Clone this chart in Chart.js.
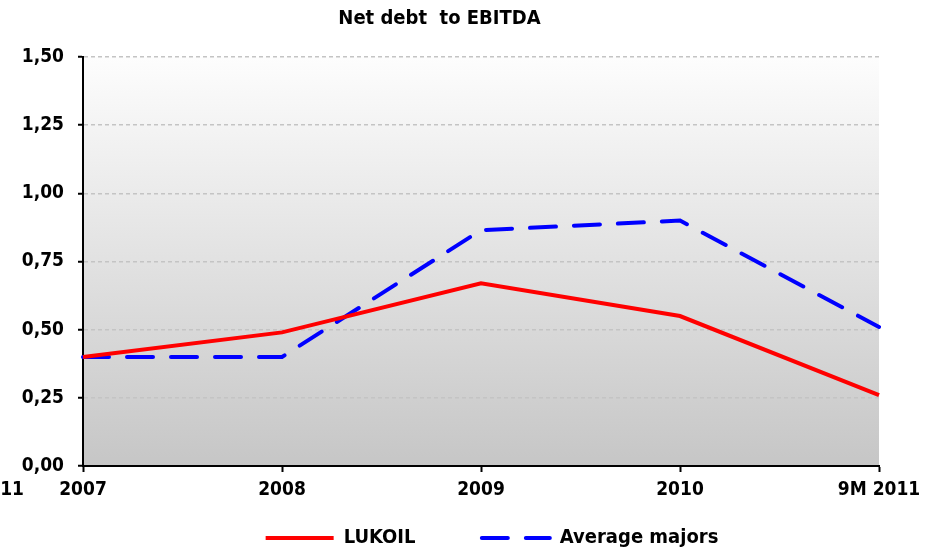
<!DOCTYPE html>
<html>
<head>
<meta charset="utf-8">
<script src="https://cdn.jsdelivr.net/npm/chart.js@4/dist/chart.umd.min.js"></script>
<style>
  html, body { margin: 0; padding: 0; background: #ffffff; }
  #wrap { width: 943px; height: 550px; }
</style>
</head>
<body>
<div id="wrap"><canvas id="myChart" width="943" height="550"></canvas></div>
<script>
// Chart data
var categories = ['2007', '2008', '2009', '2010', '9M 2011'];
var lukoil = [0.40, 0.49, 0.67, 0.55, 0.26];
var averageMajors = [0.40, 0.40, 0.865, 0.90, 0.51];
var yTicks = [0, 0.25, 0.5, 0.75, 1.0, 1.25, 1.5];

var fontFamily = '"DejaVu Sans Condensed", "DejaVu Sans", sans-serif';

// Grey gradient behind the plot area, plus the clipped label on the left edge
var backgroundPlugin = {
    id: 'plotBackground',
    afterLayout: function(chart) {
        // nudge the legend a bit to the right, like the original
        chart.legend.left += 11;
        chart.legend.right += 11;
    },
    beforeDraw: function(chart) {
        var area = chart.chartArea;
        var ctx = chart.ctx;
        var grad = ctx.createLinearGradient(0, area.top, 0, area.bottom);
        grad.addColorStop(0, '#fdfdfd');
        grad.addColorStop(1, '#c6c6c6');
        ctx.save();
        ctx.fillStyle = grad;
        ctx.fillRect(area.left, area.top, area.right - area.left, area.bottom - area.top);
        ctx.restore();
    },
    afterDraw: function(chart) {
        var ctx = chart.ctx;
        ctx.save();
        ctx.font = 'bold 19px ' + fontFamily;
        ctx.fillStyle = '#000';
        ctx.textAlign = 'right';
        ctx.textBaseline = 'middle';
        ctx.fillText('11', 24, 490);
        ctx.restore();
    }
};

// Legend items: keep the dash pattern of the line and widen the gap between entries
function legendLabels(chart) {
    var items = Chart.defaults.plugins.legend.labels.generateLabels(chart);
    items.forEach(function(item) {
        var ds = chart.data.datasets[item.datasetIndex];
        item.lineDash = ds.borderDash || [];
        item.lineCap = ds.borderCapStyle || 'butt';
        item.lineWidth = ds.borderWidth;
        item.strokeStyle = ds.borderColor;
        if (item.datasetIndex === 0) {
            item.text = item.text + '         ';
        }
    });
    return items;
}

var ctx = document.getElementById('myChart').getContext('2d');

var config = {
    type: 'line',
    data: {
        labels: categories,
        datasets: [{
            label: 'LUKOIL',
            data: lukoil,
            borderColor: '#ff0000',
            backgroundColor: '#ff0000',
            borderWidth: 4,
            pointRadius: 0,
            tension: 0
        }, {
            label: 'Average majors',
            data: averageMajors,
            borderColor: '#0000ff',
            backgroundColor: '#0000ff',
            borderWidth: 4,
            borderDash: [26, 18],
            borderCapStyle: 'round',
            pointRadius: 0,
            tension: 0
        }]
    },
    options: {
        responsive: false,
        animation: false,
        layout: {
            padding: { left: 0, right: 64, top: 0, bottom: 0 }
        },
        plugins: {
            title: {
                display: true,
                text: 'Net debt  to EBITDA',
                color: '#000',
                font: { family: fontFamily, size: 20, weight: 'bold' },
                padding: { top: 7, bottom: 26 }
            },
            legend: {
                position: 'bottom',
                fullSize: false,
                maxHeight: 32,
                labels: {
                    usePointStyle: true,
                    pointStyle: 'line',
                    pointStyleWidth: 68,
                    color: '#000',
                    font: { family: fontFamily, size: 20, weight: 'bold' },
                    padding: 10,
                    generateLabels: legendLabels
                }
            },
            tooltip: { enabled: false }
        },
        scales: {
            x: {
                offset: false,
                afterFit: function(scale) { scale.height = 52; },
                border: { display: true, color: '#000', width: 2 },
                grid: {
                    display: true,
                    drawOnChartArea: false,
                    drawTicks: true,
                    tickLength: 6,
                    tickColor: '#000',
                    tickWidth: 2
                },
                ticks: {
                    color: '#000',
                    maxRotation: 0,
                    autoSkip: false,
                    padding: 7,
                    font: { family: fontFamily, size: 19, weight: 'bold' }
                }
            },
            y: {
                min: 0,
                max: 1.5,
                afterFit: function(scale) { scale.width = 83; },
                afterBuildTicks: function(scale) {
                    scale.ticks = yTicks.map(function(v) { return { value: v }; });
                },
                border: { display: true, color: '#000', width: 2, dash: [4, 3] },
                grid: {
                    color: '#c4c4c4',
                    lineWidth: 1.5,
                    tickLength: 5,
                    tickColor: '#000',
                    tickWidth: 2,
                    tickBorderDash: []
                },
                ticks: {
                    color: '#000',
                    padding: 14,
                    font: { family: fontFamily, size: 19, weight: 'bold' },
                    callback: function(value) {
                        return value.toFixed(2).replace('.', ',');
                    }
                }
            }
        }
    },
    plugins: [backgroundPlugin]
};

var myChart = new Chart(ctx, config);
</script>
</body>
</html>
